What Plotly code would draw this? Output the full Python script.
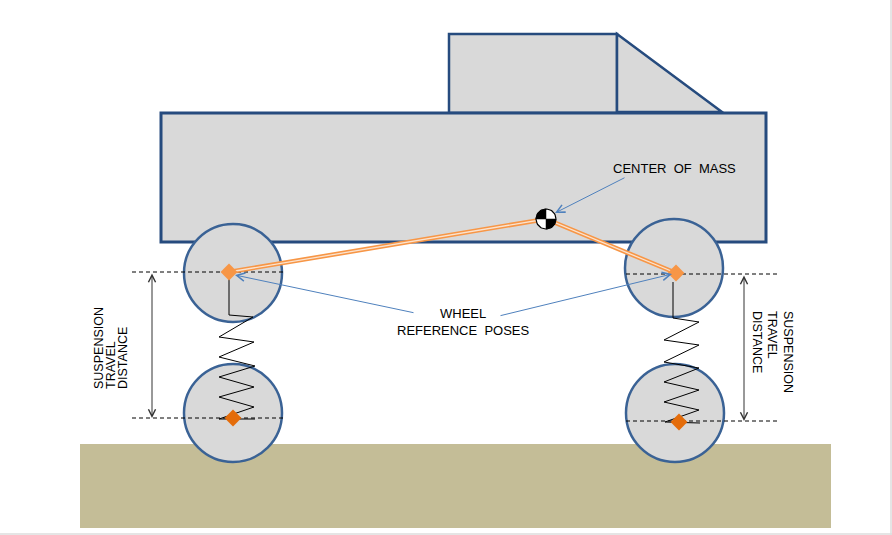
import numpy as np
import plotly.graph_objects as go

# Geometria del diagrama (coordenadas en pixeles, y hacia abajo)
ground = [80, 444, 831, 528]
body = [161, 113, 766, 242]
cab = [449, 34, 617, 113]
hood = [(617, 34), (722, 112), (617, 112)]

wheel_cx = [233, 233, 674, 675]
wheel_cy = [273, 413, 268, 413]
wheel_r = [49, 49, 49, 49]

# lineas de referencia (x0, x1, y)
dash_lines = [(132, 283, 272), (132, 283, 418), (626, 780, 274), (626, 780, 421)]
# flechas de recorrido (x, y0, y1)
travel_arrows = [(152, 272, 418), (744, 274, 421)]

spring_left_x = [229, 229, 253, 219, 254, 219, 255, 219, 254, 219, 254, 219, 255]
spring_left_y = [273, 315, 317, 337, 342, 357, 366, 377, 387, 397, 407, 419, 419]
spring_right_x = [673, 673, 699, 664, 699, 664, 699, 664, 699, 664, 699, 665, 700]
spring_right_y = [282, 318, 322, 340, 345, 362, 368, 382, 390, 402, 410, 422, 423]

pose_up_x = [229, 676]
pose_up_y = [272, 273]
pose_down_x = [233, 679]
pose_down_y = [418, 422]

com = (546, 219)
com_r = 10

labels = ["CENTER  OF  MASS", "WHEEL<br>REFERENCE  POSES"]
label_pos = [(674, 168), (463, 322)]
callouts = [(626, 177, 555, 213), (415, 313, 235, 275), (499, 316, 672, 274)]
travel_words = ["SUSPENSION", "TRAVEL", "DISTANCE"]
left_word_x = [99, 111, 123]
right_word_x = [788, 772, 757]

gray = "#D9D9D9"
navy = "#264B7E"
wheel_line = "#3A6295"
light_orange = "#F79646"
dark_orange = "#E46C0A"
callout_blue = "#4F81BD"
FONT = "Liberation Sans, Arial, sans-serif"

fig = go.Figure()
shapes = []

shapes.append(dict(type="rect", x0=ground[0], y0=ground[1], x1=ground[2], y1=ground[3],
                   fillcolor="#C4BD97", line=dict(width=0), layer="below"))
shapes.append(dict(type="rect", x0=cab[0], y0=cab[1], x1=cab[2], y1=cab[3],
                   fillcolor=gray, line=dict(color=navy, width=2.5), layer="below"))
hood_path = "M{},{} L{},{} L{},{} Z".format(*[v for p in hood for v in p])
shapes.append(dict(type="path", path=hood_path, fillcolor=gray,
                   line=dict(color=navy, width=2.5), layer="below"))
shapes.append(dict(type="rect", x0=body[0], y0=body[1], x1=body[2], y1=body[3],
                   fillcolor=gray, line=dict(color=navy, width=3), layer="below"))
for cx, cy, r in zip(wheel_cx, wheel_cy, wheel_r):
    shapes.append(dict(type="circle", x0=cx - r, y0=cy - r, x1=cx + r, y1=cy + r,
                       fillcolor=gray, line=dict(color=wheel_line, width=2.5), layer="below"))
# borde gris del lienzo
shapes.append(dict(type="line", x0=891, y0=0, x1=891, y1=535, line=dict(color="#DDDDDD", width=1.5)))
shapes.append(dict(type="line", x0=0, y0=534, x1=892, y1=534, line=dict(color="#DDDDDD", width=1.5)))

# lineas discontinuas
for x0, x1, y in dash_lines:
    fig.add_trace(go.Scatter(x=[x0, x1], y=[y, y], mode="lines",
                             line=dict(color="black", width=1, dash="4px,3px"),
                             hoverinfo="skip"))

# resortes
for sx, sy in [(spring_left_x, spring_left_y), (spring_right_x, spring_right_y)]:
    fig.add_trace(go.Scatter(x=sx, y=sy, mode="lines",
                             line=dict(color="black", width=1), hoverinfo="skip"))

# linea doble naranja rueda - CdM - rueda
lx = [pose_up_x[0], com[0], pose_up_x[1]]
ly = [pose_up_y[0], com[1], pose_up_y[1]]
fig.add_trace(go.Scatter(x=lx, y=ly, mode="lines", line=dict(color=light_orange, width=4.5),
                         hoverinfo="skip"))
fig.add_trace(go.Scatter(x=lx, y=ly, mode="lines", line=dict(color="#FBE3CF", width=1.3),
                         hoverinfo="skip"))

# marcadores de pose
fig.add_trace(go.Scatter(x=pose_up_x, y=pose_up_y, mode="markers",
                         marker=dict(symbol="diamond", size=13, color=light_orange),
                         hoverinfo="skip"))
fig.add_trace(go.Scatter(x=pose_down_x, y=pose_down_y, mode="markers",
                         marker=dict(symbol="diamond", size=13, color=dark_orange),
                         hoverinfo="skip"))

# simbolo de centro de masa
t = np.linspace(0, 2 * np.pi, 60)
fig.add_trace(go.Scatter(x=com[0] + com_r * np.cos(t), y=com[1] + com_r * np.sin(t),
                         mode="lines", fill="toself", fillcolor="white",
                         line=dict(color="black", width=1.2), hoverinfo="skip"))
for a0 in [np.pi, 0]:
    q = np.linspace(a0, a0 + np.pi / 2, 20)
    qx = np.concatenate([[com[0]], com[0] + com_r * np.cos(q), [com[0]]])
    qy = np.concatenate([[com[1]], com[1] + com_r * np.sin(q), [com[1]]])
    fig.add_trace(go.Scatter(x=qx, y=qy, mode="lines", fill="toself", fillcolor="black",
                             line=dict(color="black", width=0.5), hoverinfo="skip"))

annotations = []
for x, y0, y1 in travel_arrows:
    annotations.append(dict(x=x, y=y1, ax=x, ay=y0, xref="x", yref="y", axref="x", ayref="y",
                            showarrow=True, arrowhead=5, startarrowhead=5, arrowside="end+start",
                            arrowsize=1.4, startarrowsize=1.4, arrowwidth=1, arrowcolor="#333333",
                            text=""))
for x0, y0, x1, y1 in callouts:
    annotations.append(dict(x=x1, y=y1, ax=x0, ay=y0, xref="x", yref="y", axref="x", ayref="y",
                            showarrow=True, arrowhead=5, arrowsize=1.6, arrowwidth=1,
                            arrowcolor=callout_blue, text=""))
for txt, (x, y) in zip(labels, label_pos):
    annotations.append(dict(x=x, y=y, xref="x", yref="y", text=txt, showarrow=False,
                            font=dict(family=FONT, size=13, color="black"), align="center"))
for w, x in zip(travel_words, left_word_x):
    annotations.append(dict(x=x, y=391, xref="x", yref="y", text=w, showarrow=False,
                            textangle=-90, yanchor="bottom", xanchor="center",
                            font=dict(family=FONT, size=12.5, color="black")))
for w, x in zip(travel_words, right_word_x):
    annotations.append(dict(x=x, y=309, xref="x", yref="y", text=w, showarrow=False,
                            textangle=90, yanchor="top", xanchor="center",
                            font=dict(family=FONT, size=12.5, color="black")))

fig.update_layout(
    width=892, height=535,
    margin=dict(l=0, r=0, t=0, b=0),
    paper_bgcolor="white", plot_bgcolor="white",
    showlegend=False,
    shapes=shapes,
    annotations=annotations,
    xaxis=dict(range=[0, 892], visible=False, fixedrange=True),
    yaxis=dict(range=[535, 0], visible=False, fixedrange=True),
)

fig.write_html("out.html", config={"displayModeBar": False},
               post_script="document.body.style.margin='0';")
